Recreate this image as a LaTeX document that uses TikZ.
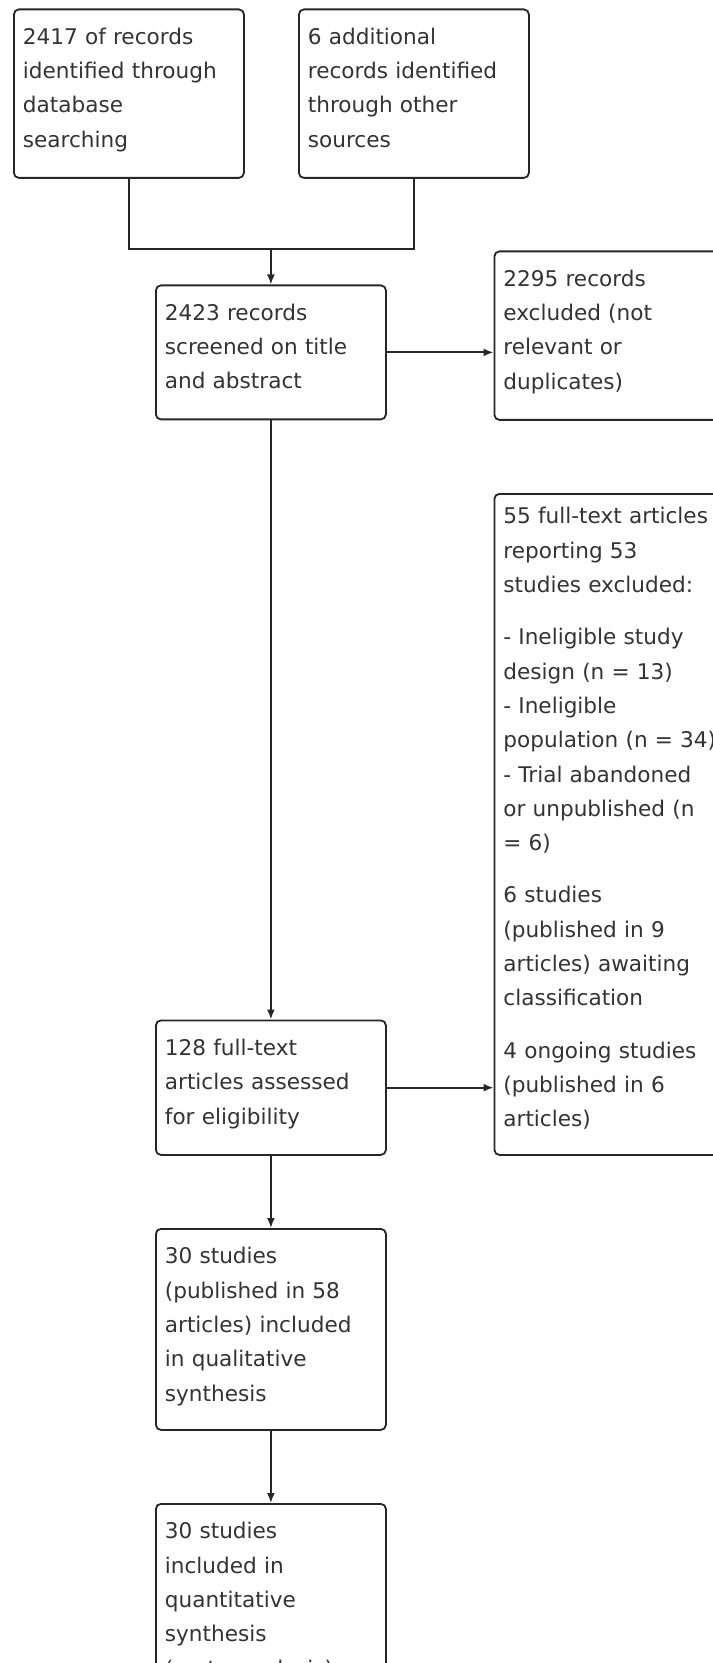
\documentclass[tikz,border=0pt]{standalone}
\usepackage{fontspec}
\setmainfont{DejaVu Sans}
\usetikzlibrary{arrows.meta}

\begin{document}
\begin{tikzpicture}[x=0.5pt, y=-0.5pt,
  flow/.style={draw=black!85, line width=0.9pt, rounded corners=2.5pt, anchor=north west,
    align=left, text width=106pt, inner xsep=4.5pt, inner ysep=0pt, text height=17.5pt,
    text=black!80, font=\fontsize{10.8pt}{17.15pt}\selectfont},
  link/.style={draw=black!85, line width=0.9pt},
  arrow/.style={link, -{Latex[length=5pt,width=4pt]}}]
	% page frame
	\useasboundingbox (0,0) rectangle (712,1663);
	
	% Identification
	\node[flow, text depth=66.75pt] (database) at (13,8.5) {2417 of records\\identified through\\database\\searching};
	\node[flow, text depth=66.75pt] (other) at (298,8.5) {6 additional\\records identified\\through other\\sources};
	
	% Screening
	\node[flow, text depth=49.5pt] (screened) at (155,284.5) {2423 records\\screened on title\\and abstract};
	\node[flow, text depth=66.75pt] (excluded) at (493.5,250.5) {2295 records\\excluded (not\\relevant or\\duplicates)};
	
	% Eligibility
	\node[flow, text depth=49.75pt] (fulltext) at (155,1019.5) {128 full-text\\articles assessed\\for eligibility};
	\node[flow, text width=120pt, text height=15pt, text depth=315.5pt] (ftexcluded) at (493.5,493) {55 full-text articles\\reporting 53\\studies excluded:\\[9pt]- Ineligible study\\design (n = 13)\\- Ineligible\\population (n = 34)\\- Trial abandoned\\or unpublished (n\\= 6)\\[9pt]6 studies\\(published in 9\\articles) awaiting\\classification\\[9pt]4 ongoing studies\\(published in 6\\articles)};
	
	% Included
	\node[flow, text depth=83pt] (qualitative) at (155,1228) {30 studies\\(published in 58\\articles) included\\in qualitative\\synthesis};
	\node[flow, text depth=87.5pt] (quantitative) at (155,1503) {30 studies\\included in\\quantitative\\synthesis\\(meta-analysis)};
	
	% Connectors
	\coordinate (merge) at ([yshift=17.75pt]screened.north);
	\draw[link] (database.south) |- (merge) -| (other.south);
	\draw[arrow] (merge) -- (screened.north);
	\draw[arrow] (screened.east) -- (screened.east -| excluded.west);
	\draw[arrow] (screened.south) -- (fulltext.north);
	\draw[arrow] (fulltext.east) -- (fulltext.east -| ftexcluded.west);
	\draw[arrow] (fulltext.south) -- (qualitative.north);
	\draw[arrow] (qualitative.south) -- (quantitative.north);
\end{tikzpicture}
\end{document}
